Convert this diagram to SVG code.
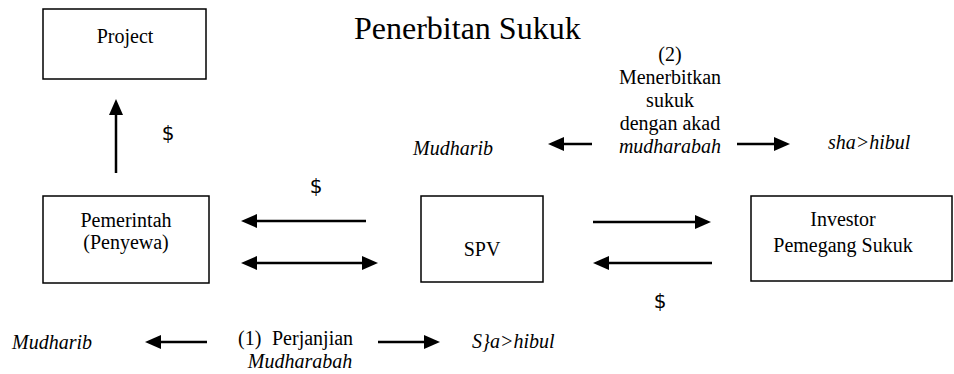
<svg xmlns="http://www.w3.org/2000/svg" width="954" height="374" viewBox="0 0 954 374">
<style>
.box{fill:#fff;stroke:#000;stroke-width:1.5}
.t{font-family:'Liberation Serif',serif;font-size:20px;fill:#000}
.title{font-family:'Liberation Serif',serif;font-size:32px;fill:#000}
.tc{font-family:'Liberation Serif',serif;font-size:20px;fill:#000;text-anchor:middle}
.ti{font-family:'Liberation Serif',serif;font-size:20px;fill:#000;font-style:italic}
.tic{font-family:'Liberation Serif',serif;font-size:20px;fill:#000;font-style:italic;text-anchor:middle}
.dc{font-family:'DejaVu Sans',sans-serif;font-size:20px;fill:#000;text-anchor:middle}
.a{stroke:#000;stroke-width:2.5;fill:none}
</style>
<defs>
<marker id="ah" markerUnits="userSpaceOnUse" markerWidth="16" markerHeight="14" refX="2" refY="7" orient="auto-start-reverse" viewBox="0 0 16 14">
<path d="M0,0 L16,7 L0,14 z" fill="#000"/>
</marker>
</defs>
<rect width="954" height="374" fill="#fff"/>
<text class="title" x="354" y="39">Penerbitan Sukuk</text>
<g id="project">
<rect class="box" x="43" y="9" width="163" height="70"/>
<text class="tc" x="125" y="43">Project</text>
</g>
<g id="pemerintah">
<rect class="box" x="43" y="196" width="166" height="87"/>
<text class="tc" x="126" y="227">Pemerintah</text>
<text class="tc" x="126" y="249">(Penyewa)</text>
</g>
<g id="spv">
<rect class="box" x="421" y="196" width="122" height="86"/>
<text class="tc" x="482" y="256">SPV</text>
</g>
<g id="investor">
<rect class="box" x="751" y="196" width="201" height="85"/>
<text class="tc" x="843" y="226">Investor</text>
<text class="tc" x="843" y="252">Pemegang Sukuk</text>
</g>
<g id="connectors">
<line class="a" x1="116" y1="173" x2="116" y2="113" marker-end="url(#ah)"/>
<line class="a" x1="366" y1="221" x2="255" y2="221" marker-end="url(#ah)"/>
<line class="a" x1="255" y1="263" x2="364" y2="263" marker-start="url(#ah)" marker-end="url(#ah)"/>
<line class="a" x1="593" y1="222" x2="697" y2="222" marker-end="url(#ah)"/>
<line class="a" x1="712" y1="263" x2="607" y2="263" marker-end="url(#ah)"/>
<line class="a" x1="592" y1="144" x2="562" y2="144" marker-end="url(#ah)"/>
<line class="a" x1="737" y1="144" x2="776" y2="144" marker-end="url(#ah)"/>
<line class="a" x1="207" y1="342" x2="159" y2="342" marker-end="url(#ah)"/>
<line class="a" x1="378" y1="342" x2="426" y2="342" marker-end="url(#ah)"/>
</g>
<g id="labels">
<text class="dc" x="168" y="140">$</text>
<text class="dc" x="316" y="193">$</text>
<text class="dc" x="660" y="308">$</text>
<text class="tc" x="670" y="61">(2)</text>
<text class="tc" x="670" y="84">Menerbitkan</text>
<text class="tc" x="670" y="107">sukuk</text>
<text class="tc" x="670" y="130">dengan akad</text>
<text class="tic" x="670" y="153">mudharabah</text>
<text class="ti" x="413" y="155">Mudharib</text>
<text class="ti" x="828" y="149">sha&gt;hibul</text>
<text class="ti" x="12" y="349">Mudharib</text>
<text class="t" x="238" y="345">(1)</text>
<text class="t" x="272" y="345">Perjanjian</text>
<text class="tic" x="300" y="368">Mudharabah</text>
<text class="ti" x="472" y="348">S}a&gt;hibul</text>
</g>
</svg>
